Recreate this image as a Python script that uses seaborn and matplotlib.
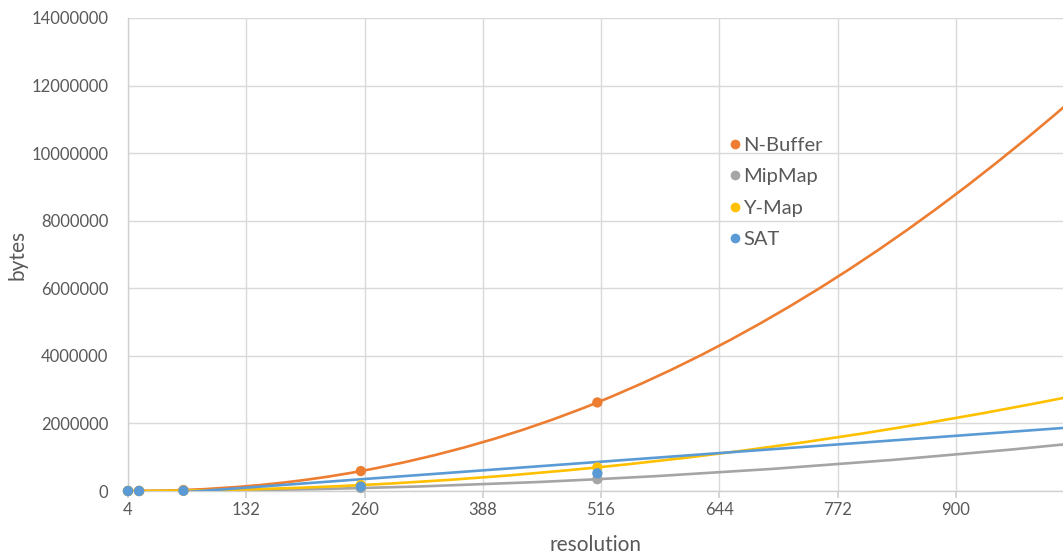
import numpy as np
import matplotlib
matplotlib.use("Agg")
import matplotlib.pyplot as plt
import seaborn as sns
import pandas as pd
from matplotlib.path import Path
from matplotlib.patches import PathPatch
from matplotlib.lines import Line2D
from matplotlib.ticker import FuncFormatter, MultipleLocator

# resolution (pixels per side) and memory footprint in bytes
resolution = [4, 16, 64, 256, 512, 1024]
nbuffer = [48, 1280, 28672, 589824, 2621440, 11534336]
mipmap = [21, 341, 5461, 87381, 349525, 1398101]
ymap = [43, 683, 10923, 174763, 699051, 2796203]
sat = [32, 512, 8192, 131072, 524288, 2097152]

series_names = ["N-Buffer", "MipMap", "Y-Map", "SAT"]
PALETTE = {
    "N-Buffer": "#ED7D31",
    "MipMap": "#A5A5A5",
    "Y-Map": "#FFC000",
    "SAT": "#5B9BD5",
}
x_ticks = [4, 132, 260, 388, 516, 644, 772, 900, 1028]


def smooth_path(xs, ys):
    # smoothed line through the points: cubic Hermite segments drawn as Bezier curves
    x = np.asarray(xs, float)
    y = np.asarray(ys, float)
    h = np.diff(x)
    d = np.diff(y) / h
    m = np.empty_like(y)
    m[1:-1] = (h[1:] * d[:-1] + h[:-1] * d[1:]) / (h[:-1] + h[1:])
    m[0] = 2 * d[0] - m[1]
    m[-1] = 2 * d[-1] - m[-2]
    verts = [(x[0], y[0])]
    codes = [Path.MOVETO]
    for i in range(len(x) - 1):
        verts += [(x[i] + h[i] / 3, y[i] + m[i] * h[i] / 3),
                  (x[i + 1] - h[i] / 3, y[i + 1] - m[i + 1] * h[i] / 3),
                  (x[i + 1], y[i + 1])]
        codes += [Path.CURVE4] * 3
    return Path(verts, codes)


df = pd.DataFrame({
    "resolution": resolution * 4,
    "bytes": nbuffer + mipmap + ymap + sat,
    "series": sum([[n] * len(resolution) for n in series_names], []),
})

sns.set_theme(style="white")
plt.rcParams["font.family"] = ["Lato", "DejaVu Sans"]

fig = plt.figure(figsize=(10.63, 5.56), dpi=100)
ax = fig.add_axes([128 / 1063, 65 / 556, 935 / 1063, 473 / 556])

# smoothed lines for the first three series
for name, vals in zip(series_names[:3], [nbuffer, mipmap, ymap]):
    ax.add_patch(PathPatch(smooth_path(resolution, vals), fill=False,
                           edgecolor=PALETTE[name], lw=1.9, zorder=3))

# SAT is shown with a linear trend line
sns.regplot(x=resolution, y=sat, order=1, ci=None, scatter=False, ax=ax,
            color=PALETTE["SAT"], line_kws={"lw": 1.9, "zorder": 3.5})

sns.scatterplot(data=df, x="resolution", y="bytes", hue="series",
                palette=PALETTE, hue_order=series_names, s=55, linewidth=0,
                ax=ax, legend=False, zorder=4, clip_on=False)

ax.set_xticks(x_ticks)
ax.set_xlim(4, 1016)
ax.set_ylim(0, 14000000)
ax.yaxis.set_major_locator(MultipleLocator(2000000))
ax.yaxis.set_major_formatter(FuncFormatter(lambda v, p: f"{int(v)}"))

ax.grid(True, color="#d9d9d9", lw=1)
for side in ["top", "right"]:
    ax.spines[side].set_visible(False)
for side in ["left", "bottom"]:
    ax.spines[side].set_color("#d0d0d0")
    ax.spines[side].set_linewidth(1)

ax.tick_params(axis="x", which="major", bottom=True, length=5, color="#d0d0d0",
               labelsize=12, labelcolor="#595959", pad=3)
ax.tick_params(axis="y", left=False, labelsize=12, labelcolor="#595959", pad=8)

ax.set_xlabel("resolution", fontsize=15, color="#595959", labelpad=12)
ax.set_ylabel("bytes", fontsize=15, color="#595959", labelpad=3)

handles = [Line2D([], [], ls="none", marker="o", markersize=7,
                  markerfacecolor=PALETTE[n], markeredgewidth=0) for n in series_names]
ax.legend(handles, series_names, loc="center left", bbox_to_anchor=(0.619, 0.631),
          frameon=False, fontsize=14.5, labelcolor="#595959", handletextpad=-0.1,
          handlelength=1.0, labelspacing=0.72)

fig.savefig("out.png", dpi=100)
